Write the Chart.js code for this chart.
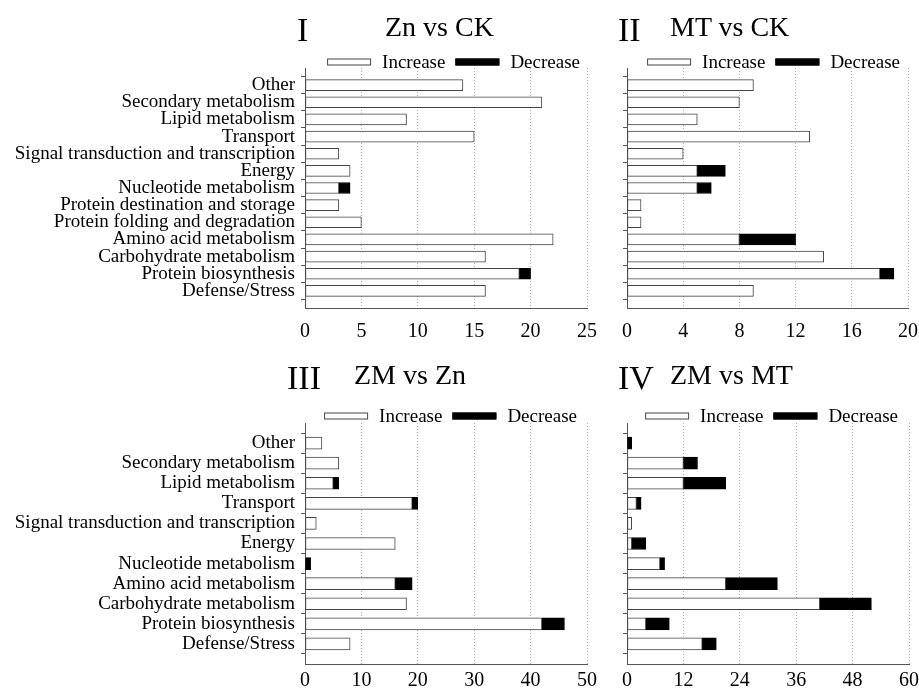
<!DOCTYPE html>
<html>
<head>
<meta charset="utf-8">
<script src="https://cdn.jsdelivr.net/npm/chart.js@4.4.1/dist/chart.umd.min.js"></script>
<style>
  body { margin: 0; background: #fff; width: 919px; height: 694px; position: relative; overflow: hidden; font-family: "Liberation Serif", serif; }
  .box { position: absolute; }
  .ttl { position: absolute; color: #000; line-height: 1; white-space: nowrap; z-index: 2; }
  .num { font-size: 34px; }
  .cmp { font-size: 28px; }
</style>
</head>
<body>
<div class="ttl num" style="left:297px; top:13px;">I</div>
<div class="ttl cmp" style="left:385px; top:13px;">Zn vs CK</div>
<div class="ttl num" style="left:618px; top:13px;">II</div>
<div class="ttl cmp" style="left:670px; top:13px;">MT vs CK</div>
<div class="ttl num" style="left:287px; top:361px;">III</div>
<div class="ttl cmp" style="left:354px; top:361px;">ZM vs Zn</div>
<div class="ttl num" style="left:618px; top:361px;">IV</div>
<div class="ttl cmp" style="left:670px; top:361px;">ZM vs MT</div>

<div class="box" style="left:0; top:0; width:600px; height:350px;"><canvas id="c1"></canvas></div>
<div class="box" style="left:610px; top:0; width:309px; height:350px;"><canvas id="c2"></canvas></div>
<div class="box" style="left:0; top:355px; width:600px; height:339px;"><canvas id="c3"></canvas></div>
<div class="box" style="left:610px; top:355px; width:309px; height:339px;"><canvas id="c4"></canvas></div>

<script>
  // categories (top to bottom)
  const catsTop = [
    "Other", "Secondary metabolism", "Lipid metabolism", "Transport",
    "Signal transduction and transcription", "Energy", "Nucleotide metabolism",
    "Protein destination and storage", "Protein folding and degradation",
    "Amino acid metabolism", "Carbohydrate metabolism", "Protein biosynthesis",
    "Defense/Stress"
  ];
  const catsBottom = [
    "Other", "Secondary metabolism", "Lipid metabolism", "Transport",
    "Signal transduction and transcription", "Energy", "Nucleotide metabolism",
    "Amino acid metabolism", "Carbohydrate metabolism", "Protein biosynthesis",
    "Defense/Stress"
  ];

  // I  Zn vs CK
  const incZnCK = [14, 21, 9, 15, 3, 4, 3, 3, 5, 22, 16, 19, 16];
  const decZnCK = [0, 0, 0, 0, 0, 0, 1, 0, 0, 0, 0, 1, 0];
  // II  MT vs CK
  const incMTCK = [9, 8, 5, 13, 4, 5, 5, 1, 1, 8, 14, 18, 9];
  const decMTCK = [0, 0, 0, 0, 0, 2, 1, 0, 0, 4, 0, 1, 0];
  // III  ZM vs Zn
  const incZMZn = [3, 6, 5, 19, 2, 16, 0, 16, 18, 42, 8];
  const decZMZn = [0, 0, 1, 1, 0, 0, 1, 3, 0, 4, 0];
  // IV  ZM vs MT
  const incZMMT = [0, 12, 12, 2, 1, 1, 7, 21, 41, 4, 16];
  const decZMMT = [1, 3, 9, 1, 0, 3, 1, 11, 11, 5, 3];

  // x axis ticks per panel
  const ticksI = [0, 5, 10, 15, 20, 25];
  const ticksII = [0, 4, 8, 12, 16, 20];
  const ticksIII = [0, 10, 20, 30, 40, 50];
  const ticksIV = [0, 12, 24, 36, 48, 60];

  Chart.defaults.font.family = "'Liberation Serif', 'Times New Roman', serif";
  Chart.defaults.color = "#000";

  // small legend drawn just above the plot, right aligned, overlapping the top edge
  const topLegend = {
    id: "topLegend",
    afterDraw(chart, args, opts) {
      const { ctx, chartArea } = chart;
      const sets = chart.data.datasets;
      ctx.save();
      ctx.font = "19px 'Liberation Serif', serif";
      ctx.textBaseline = "middle";
      const boxW = 44, boxH = 7, gap = 11, between = 10;
      let total = 0;
      sets.forEach((ds, i) => {
        total += boxW + gap + ctx.measureText(ds.label).width + (i < sets.length - 1 ? between : 0);
      });
      let x = chartArea.right - opts.right - total;
      const y = chartArea.top - opts.above;
      sets.forEach((ds) => {
        ctx.fillStyle = ds.backgroundColor;
        ctx.fillRect(x, y - boxH / 2, boxW, boxH);
        ctx.strokeStyle = ds.borderColor;
        ctx.lineWidth = 1;
        ctx.strokeRect(x + 0.5, y - boxH / 2 + 0.5, boxW - 1, boxH - 1);
        x += boxW + gap;
        ctx.fillStyle = "#000";
        ctx.fillText(ds.label, x, y + 1);
        x += ctx.measureText(ds.label).width + between;
      });
      ctx.restore();
    },
  };

  function toPoints(arr) {
    return arr.map((v, i) => ({ x: v || null, y: i }));
  }

  function makePanel(id, cats, inc, dec, xTicks, opts) {
    const n = cats.length;
    return new Chart(document.getElementById(id), {
      type: "bar",
      plugins: [topLegend],
      data: {
        datasets: [
          {
            label: "Increase",
            data: toPoints(inc),
            backgroundColor: "#fff",
            borderColor: "#444",
            borderWidth: 1,
            borderSkipped: false,
            barThickness: opts.barH,
          },
          {
            label: "Decrease",
            data: toPoints(dec),
            backgroundColor: "#000",
            borderColor: "#000",
            borderWidth: 1,
            borderSkipped: false,
            barThickness: opts.barH,
          },
        ],
      },
      options: {
        indexAxis: "y",
        responsive: true,
        maintainAspectRatio: false,
        animation: false,
        layout: { padding: { left: 0, right: opts.padRight, top: 68, bottom: 0 } },
        plugins: {
          tooltip: { enabled: false },
          legend: { display: false },
          topLegend: { right: opts.legendRight, above: opts.legendAbove },
        },
        scales: {
          x: {
            type: "linear",
            stacked: true,
            min: xTicks[0],
            max: xTicks[xTicks.length - 1],
            afterBuildTicks: (s) => { s.ticks = xTicks.map((v) => ({ value: v })); },
            afterFit: (s) => { s.height = opts.xHeight; s.paddingRight = 0; },
            ticks: { font: { size: 20 }, color: "#000", padding: opts.xPad, maxRotation: 0 },
            grid: { color: "#aaa", drawTicks: false },
            border: { color: "#555", width: 1, dash: [1, 2] },
          },
          y: {
            type: "linear",
            stacked: true,
            reverse: true,
            offset: false,
            min: -1,
            max: n,
            afterBuildTicks: (s) => { s.ticks = cats.map((c, i) => ({ value: i })); },
            afterFit: (s) => { s.width = opts.yWidth; },
            ticks: {
              autoSkip: false,
              font: { size: 19 },
              color: "#000",
              padding: 6,
              callback: (v) => (opts.showLabels ? cats[v] : ""),
            },
            grid: { drawOnChartArea: false, drawTicks: true, tickLength: 4, color: "#555" },
            border: { color: "#555", width: 1 },
          },
        },
      },
    });
  }

  makePanel("c1", catsTop, incZnCK, decZnCK, ticksI, { showLabels: true, yWidth: 305, padRight: 13, barH: 11, xHeight: 42, xPad: 12, legendRight: 7, legendAbove: 6 });
  makePanel("c2", catsTop, incMTCK, decMTCK, ticksII, { showLabels: false, yWidth: 16, padRight: 11, barH: 11, xHeight: 42, xPad: 12, legendRight: 8, legendAbove: 6 });
  makePanel("c3", catsBottom, incZMZn, decZMZn, ticksIII, { showLabels: true, yWidth: 305, padRight: 13, barH: 12, xHeight: 30, xPad: 5, legendRight: 10, legendAbove: 7 });
  makePanel("c4", catsBottom, incZMMT, decZMMT, ticksIV, { showLabels: false, yWidth: 17, padRight: 10, barH: 12, xHeight: 30, xPad: 5, legendRight: 11, legendAbove: 7 });
</script>
</body>
</html>
